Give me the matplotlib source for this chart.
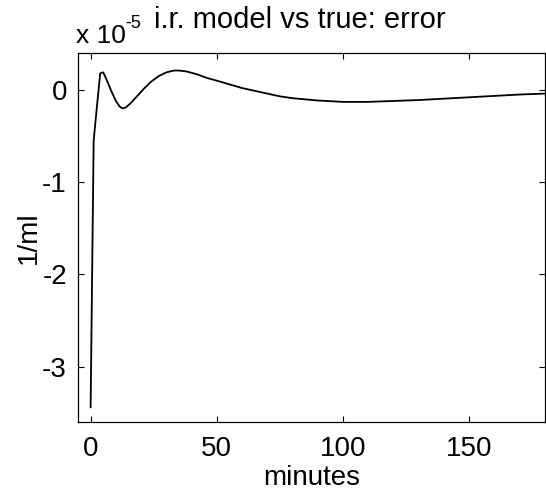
import numpy as np
import matplotlib
matplotlib.use("Agg")
import matplotlib.pyplot as plt

plt.rcParams['font.family'] = ['Liberation Sans', 'DejaVu Sans']
plt.rcParams['axes.unicode_minus'] = False

# error curve, values in units of 1e-5 (1/ml)
minutes = [0, 1.2, 2.5, 3.8, 5, 6.5, 8, 10, 11.5, 12.6, 14, 16, 18, 21, 24, 27,
           30, 33, 35, 38, 42, 46, 50, 55, 60, 65, 70, 75, 80, 90, 100, 110,
           120, 130, 140, 150, 160, 170, 180]
error = [-3.44, -0.55, -0.18, 0.18, 0.19, 0.10, 0.0, -0.12, -0.18, -0.20, -0.19,
         -0.14, -0.08, 0.01, 0.09, 0.15, 0.19, 0.21, 0.21, 0.20, 0.17, 0.13,
         0.10, 0.06, 0.02, -0.01, -0.04, -0.07, -0.09, -0.115, -0.13, -0.13,
         -0.12, -0.11, -0.095, -0.08, -0.065, -0.05, -0.04]

xticks = [0, 50, 100, 150]
yticks = [0, -1, -2, -3]

W, H = 546, 498
fig = plt.figure(figsize=(W/100, H/100), dpi=100)
ax = fig.add_axes([78/W, 1-422/H, 467/W, 369/H])

ax.plot(minutes, error, color='black', lw=1.3)
ax.set_xlim(-5, 180)
ax.set_ylim(-3.6, 0.4)
ax.set_xticks(xticks)
ax.set_yticks(yticks)
ax.tick_params(direction='in', length=4, width=0.8, top=True, right=True,
               labelsize=20)
ax.tick_params(axis='x', pad=10)
ax.tick_params(axis='y', pad=8)
for s in ax.spines.values():
    s.set_linewidth(0.9)

ax.set_xlabel('minutes', fontsize=20, labelpad=2)
ax.set_ylabel('1/ml', fontsize=20, labelpad=0)
ax.set_title('i.r. model vs true: error', fontsize=21, pad=18, x=0.475)

# exponent label, matlab style
fig.text(76/W, 1-43/H, 'x 10', fontsize=19, ha='left', va='baseline')
fig.text(125/W, 1-28/H, '-5', fontsize=13, ha='left', va='baseline')

fig.savefig('out.png', dpi=100)
